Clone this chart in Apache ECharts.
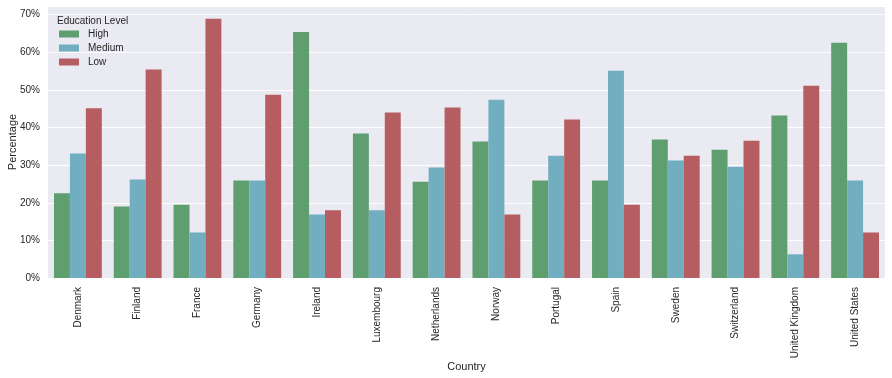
<!DOCTYPE html>
<html><head><meta charset="utf-8">
<script src="https://cdn.jsdelivr.net/npm/echarts@6/dist/echarts.min.js"></script>
<style>html,body{margin:0;padding:0;background:#fff}#c{width:892px;height:378px}</style>
</head><body><div id="c"></div>
<script>
const countries = ["Denmark","Finland","France","Germany","Ireland","Luxembourg","Netherlands","Norway","Portugal","Spain","Sweden","Switzerland","United Kingdom","United States"];
const seriesNames = ["High","Medium","Low"];
const high   = [22.5, 19.0, 19.5, 25.9, 65.4, 38.4, 25.6, 36.3, 25.9, 25.9, 36.8, 34.1, 43.2, 62.5];
const medium = [33.1, 26.2, 12.1, 25.9, 16.9, 18.0, 29.4, 47.4, 32.5, 55.1, 31.2, 29.6, 6.3, 25.9];
const low    = [45.1, 55.4, 68.9, 48.7, 18.0, 44.0, 45.3, 16.9, 42.1, 19.5, 32.5, 36.5, 51.1, 12.1];
const colors = ["#5F9E6E", "#71AEC0", "#B55D60"];

const chart = echarts.init(document.getElementById('c'), null, {renderer: 'canvas'});
const font = 'Liberation Sans, Arial, sans-serif';
chart.setOption({
  animation: false,
  color: colors,
  title: {
    text: 'Education Level', left: 52, top: 11,
    textStyle: {fontSize: 10, fontWeight: 'normal', color: '#262626', fontFamily: font}
  },
  legend: {
    orient: 'vertical', left: 59, top: 29, padding: 0,
    itemWidth: 20, itemHeight: 7, itemGap: 4,
    icon: 'rect',
    data: seriesNames,
    textStyle: {fontSize: 10, color: '#262626', fontFamily: font, padding: [0,0,0,4]}
  },
  grid: {left: 48, right: 7, top: 6, bottom: 100, containLabel: false, outerBoundsMode: 'none',
         show: true, backgroundColor: '#EAEAF2', borderWidth: 0},
  xAxis: {
    type: 'category', data: countries,
    name: 'Country', nameLocation: 'middle', nameGap: 83, nameMoveOverlap: false,
    nameTextStyle: {fontSize: 11, color: '#262626', fontFamily: font},
    axisLine: {show: false}, axisTick: {show: false},
    axisLabel: {rotate: 90, fontSize: 10, color: '#262626', margin: 9, fontFamily: font, interval: 0},
    splitLine: {show: false}
  },
  yAxis: {
    type: 'value', min: 0, max: 72.3, interval: 10,
    name: 'Percentage', nameLocation: 'middle', nameGap: 30, nameRotate: 90, nameMoveOverlap: false,
    nameTextStyle: {fontSize: 11, color: '#262626', fontFamily: font},
    axisLine: {show: false}, axisTick: {show: false},
    axisLabel: {formatter: v => Math.round(v) + '%', fontSize: 10, color: '#262626', margin: 8,
                showMaxLabel: false, fontFamily: font},
    splitLine: {show: true, lineStyle: {color: '#ffffff', width: 1}}
  },
  series: [
    {name: seriesNames[0], type: 'bar', data: high, barGap: '0%', barCategoryGap: '20%'},
    {name: seriesNames[1], type: 'bar', data: medium, barGap: '0%', barCategoryGap: '20%'},
    {name: seriesNames[2], type: 'bar', data: low, barGap: '0%', barCategoryGap: '20%'}
  ]
});
</script></body></html>
